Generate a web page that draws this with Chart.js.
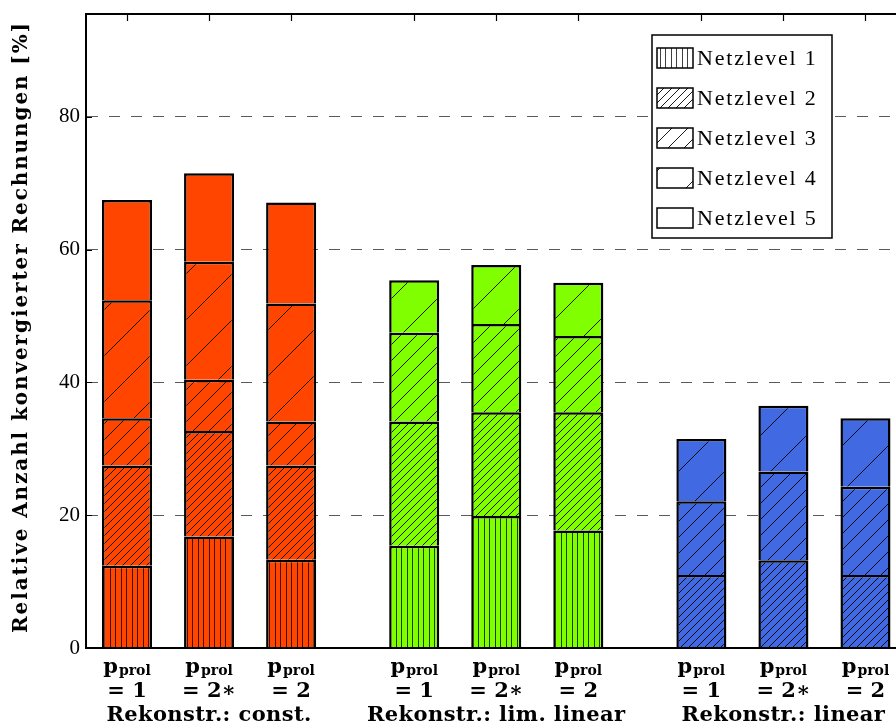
<!DOCTYPE html>
<html>
<head>
<meta charset="utf-8">
<script src="https://cdn.jsdelivr.net/npm/chart.js@4.4.0/dist/chart.umd.min.js"></script>
<style>
  html, body { margin: 0; padding: 0; background: #fff; overflow: hidden; }
  #wrap { width: 908px; height: 725px; position: relative; }
</style>
</head>
<body>
<div id="wrap"><canvas id="c"></canvas></div>
<script>
// Bar positions on the x axis: three groups of three, half a slot apart
const xPositions = [0, 1, 2, 3.5, 4.5, 5.5, 7, 8, 9];
const barGroup = [0, 0, 0, 1, 1, 1, 2, 2, 2];
const pValues = ['= 1', '= 2\u2217', '= 2', '= 1', '= 2\u2217', '= 2', '= 1', '= 2\u2217', '= 2'];
const groupLabels = ['Rekonstr.: const.', 'Rekonstr.: lim. linear', 'Rekonstr.: linear'];
const groupColors = ['#FF4500', '#7FFF00', '#4169E1'];
const levelNames = ['Netzlevel 1', 'Netzlevel 2', 'Netzlevel 3', 'Netzlevel 4', 'Netzlevel 5'];
const yTicks = [0, 20, 40, 60, 80];
const yTitle = 'Relative Anzahl konvergierter Rechnungen [%]';

// Share of converged runs [%] per mesh level (stacked)
const level1 = [12.4, 16.8, 13.3, 15.4, 19.9, 17.7, 0, 0, 0];
const level2 = [15.1, 15.9, 14.2, 18.7, 15.6, 17.8, 11.0, 13.2, 11.0];
const level3 = [7.1, 7.7, 6.6, 13.4, 13.3, 11.5, 11.1, 13.4, 13.3];
const level4 = [17.8, 17.8, 17.8, 7.9, 8.9, 8.0, 9.4, 9.9, 10.3];
const level5 = [15.1, 13.3, 15.2, 0, 0, 0, 0, 0, 0];
const levelValues = [level1, level2, level3, level4, level5];

// hatch style per level: 'v' = vertical lines, number = diagonal spacing, null = plain
const hatchKinds = ['v', 8, 16, 46, null];

const REG = "'Liberation Serif', 'Times New Roman', serif";
const BOLD = "'DejaVu Serif', serif";

const canvas = document.getElementById('c');
const mainCtx = canvas.getContext('2d');

function hatch(bg, kind) {
  if (kind === null) return bg;
  const t = document.createElement('canvas');
  const g = t.getContext('2d');
  if (kind === 'v') {
    t.width = 11; t.height = 8;
    g.fillStyle = bg; g.fillRect(0, 0, 11, 8);
    g.fillStyle = 'rgba(0,0,0,0.75)';
    g.fillRect(0, 0, 1, 8);
    g.fillRect(5, 0, 1, 8);
  } else {
    const s = kind;
    t.width = s; t.height = s;
    g.fillStyle = bg; g.fillRect(0, 0, s, s);
    g.strokeStyle = '#000';
    g.lineWidth = 0.9;
    g.beginPath();
    g.moveTo(0, s); g.lineTo(s, 0);
    g.moveTo(-1, 1); g.lineTo(1, -1);
    g.moveTo(s - 1, s + 1); g.lineTo(s + 1, s - 1);
    g.stroke();
  }
  return mainCtx.createPattern(t, 'repeat');
}

const barFills = hatchKinds.map(k => groupColors.map(c => hatch(c, k)));
const legendFills = hatchKinds.map(k => hatch('#ffffff', k));

const datasets = levelValues.map((vals, li) => ({
  label: levelNames[li],
  data: vals.map((v, i) => ({ x: xPositions[i], y: v || null })),
  backgroundColor: vals.map((v, i) => barFills[li][barGroup[i]]),
  borderColor: '#000',
  borderWidth: 2.5,
  borderSkipped: 'start',
  categoryPercentage: 1,
  barPercentage: 0.61
}));

const decor = {
  id: 'decor',
  beforeDatasetsDraw(chart) {
    const { ctx, chartArea: a, scales: { x, y } } = chart;
    ctx.save();
    ctx.strokeStyle = '#000';
    ctx.lineWidth = 1.2;
    ctx.beginPath();
    yTicks.filter(v => v > 0).forEach(v => {
      const py = Math.round(y.getPixelForValue(v)) + 0.5;
      ctx.moveTo(a.left, py); ctx.lineTo(a.left + 6, py);
    });
    xPositions.forEach(v => {
      const px = Math.round(x.getPixelForValue(v)) + 0.5;
      ctx.moveTo(px, a.top); ctx.lineTo(px, a.top + 7);
    });
    ctx.stroke();
    ctx.restore();
  },
  afterDatasetsDraw(chart) {
    const { ctx, chartArea: a } = chart;
    ctx.save();
    ctx.strokeStyle = '#000';
    ctx.lineWidth = 2;
    ctx.beginPath();
    ctx.moveTo(a.left, a.bottom); ctx.lineTo(a.left, a.top); ctx.lineTo(a.right, a.top);
    ctx.moveTo(a.left, a.bottom); ctx.lineTo(a.right, a.bottom);
    ctx.stroke();
    ctx.restore();
  },
  afterDraw(chart) {
    const { ctx, chartArea: a, scales: { x } } = chart;
    ctx.save();
    ctx.fillStyle = '#000';

    // y axis title
    ctx.save();
    ctx.translate(22, (a.top + a.bottom) / 2 - 4);
    ctx.rotate(-Math.PI / 2);
    ctx.textAlign = 'center';
    ctx.textBaseline = 'middle';
    ctx.font = 'bold 20px ' + BOLD;
    ctx.letterSpacing = '1.9px';
    ctx.fillText(yTitle, 0, 0);
    ctx.restore();

    // category labels under each bar
    ctx.textBaseline = 'alphabetic';
    ctx.letterSpacing = '0px';
    xPositions.forEach((v, i) => {
      const cx = x.getPixelForValue(v);
      ctx.font = 'bold 21px ' + BOLD;
      const wP = ctx.measureText('p').width;
      ctx.font = 'bold 14px ' + BOLD;
      const wS = ctx.measureText('prol').width;
      const x0 = cx - (wP + 1 + wS) / 2;
      ctx.textAlign = 'left';
      ctx.font = 'bold 21px ' + BOLD;
      ctx.fillText('p', x0, 673);
      ctx.font = 'bold 14px ' + BOLD;
      ctx.fillText('prol', x0 + wP + 1, 675);
      ctx.textAlign = 'center';
      ctx.font = 'bold 21px ' + BOLD;
      ctx.fillText(pValues[i], cx, 697);
    });
    groupLabels.forEach((lbl, g) => {
      const mid = xPositions[g * 3 + 1];
      ctx.textAlign = 'center';
      ctx.font = 'bold 21px ' + BOLD;
      ctx.letterSpacing = '0.4px';
      ctx.fillText(lbl, x.getPixelForValue(mid), 721);
      ctx.letterSpacing = '0px';
    });

    // legend box
    const L = 652, T = 35, W = 180, H = 203;
    ctx.fillStyle = '#fff';
    ctx.fillRect(L, T, W, H);
    ctx.strokeStyle = '#000';
    ctx.lineWidth = 1.5;
    ctx.strokeRect(L, T, W, H);
    levelNames.forEach((name, i) => {
      const cy = T + 23 + i * 40;
      ctx.fillStyle = legendFills[i];
      ctx.fillRect(L + 5, cy - 10, 36, 20);
      ctx.lineWidth = 1.5;
      ctx.strokeRect(L + 5, cy - 10, 36, 20);
      ctx.fillStyle = '#000';
      ctx.textAlign = 'left';
      ctx.textBaseline = 'middle';
      ctx.font = '22px ' + REG;
      ctx.letterSpacing = '1.8px';
      ctx.fillText(name, L + 45, cy + 1);
      ctx.letterSpacing = '0px';
    });
    ctx.restore();
  }
};

new Chart(canvas, {
  type: 'bar',
  data: { datasets },
  options: {
    responsive: true,
    maintainAspectRatio: false,
    animation: false,
    layout: { padding: { top: 14, right: 1.5, bottom: 0, left: 0 } },
    plugins: { legend: { display: false }, tooltip: { enabled: false } },
    scales: {
      x: {
        type: 'linear',
        stacked: true,
        offset: false,
        min: -0.5,
        max: 9.5,
        grid: { display: false, drawTicks: false },
        ticks: { display: false },
        border: { display: true, color: '#000', width: 2 },
        afterFit(s) { s.height = 77; }
      },
      y: {
        stacked: true,
        min: 0,
        max: 95.5,
        ticks: {
          stepSize: 20,
          includeBounds: false,
          padding: 6,
          color: '#000',
          font: { family: REG, size: 21 }
        },
        grid: {
          drawTicks: false,
          color: c => (c.tick && c.tick.value === 0) ? 'rgba(0,0,0,0)' : '#5a5a5a',
          lineWidth: 1
        },
        border: { display: true, color: '#000', width: 2, dash: [11, 11] },
        title: { display: false },
        afterFit(s) { s.width = 86; s.paddingTop = 0; s.paddingBottom = 0; }
      }
    }
  },
  plugins: [decor]
});
</script>
</body>
</html>
